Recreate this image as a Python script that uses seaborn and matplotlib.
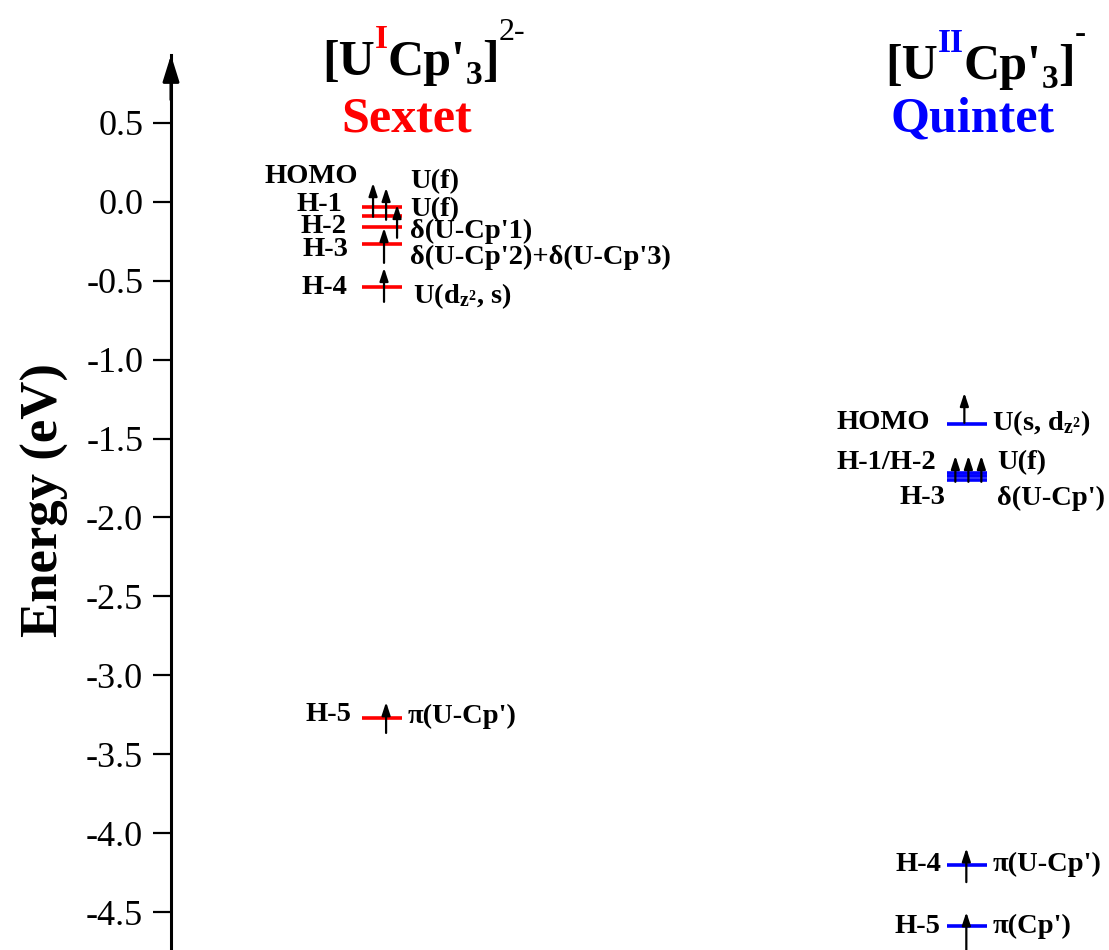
import matplotlib
matplotlib.use('Agg')
import matplotlib.pyplot as plt
import seaborn as sns

# ORBITAL ENERGIES (eV), ONE UP-SPIN ELECTRON PER LEVEL
sextet_orbitals = ['HOMO', 'H-1', 'H-2', 'H-3', 'H-4', 'H-5']
sextet_energy = [-0.03, -0.09, -0.16, -0.27, -0.54, -3.27]
sextet_character = ['U(f)', 'U(f)', "δ(U-Cp'1)", "δ(U-Cp'2)+δ(U-Cp'3)",
                    r'U(d$_{\mathrm{z}^{2}}$, s)', "π(U-Cp')"]

quintet_orbitals = ['HOMO', 'H-1', 'H-2', 'H-3', 'H-4', 'H-5']
quintet_energy = [-1.41, -1.72, -1.74, -1.76, -4.20, -4.59]
quintet_names = ['HOMO', 'H-1/H-2', 'H-3', 'H-4', 'H-5']
quintet_character = [r'U(s, d$_{\mathrm{z}^{2}}$)', 'U(f)', "δ(U-Cp')", "π(U-Cp')", "π(Cp')"]

ytick_values = [0.5, 0.0, -0.5, -1.0, -1.5, -2.0, -2.5, -3.0, -3.5, -4.0, -4.5]

# LAYOUT (x in arbitrary column units, y in eV)
col_x = {'sextet': 2.25, 'quintet': 8.49}
half_w = 0.213
s_arrow_dx = [-0.096, 0.043, 0.16, 0.021, 0.021, 0.043]
s_arrow_lo = [-0.065, -0.024, -0.068, -0.117, -0.094, -0.095]
s_arrow_len = [0.215, 0.203, 0.209, 0.222, 0.216, 0.196]
q_arrow_dx = [-0.032, -0.128, 0.011, 0.149, -0.011, -0.011]
q_arrow_lo = [0.01, -0.054, -0.034, -0.014, -0.11, -0.15]
q_arrow_len = [0.19, 0.165, 0.165, 0.165, 0.215, 0.24]

s_left_x = [1.994, 1.823, 1.876, 1.887, 1.876, 1.919]
s_left_y = [0.158, -0.019, -0.158, -0.304, -0.545, -3.25]
s_right_x = [2.548, 2.548, 2.548, 2.548, 2.58, 2.527]
s_right_y = [0.127, -0.051, -0.19, -0.355, -0.60, -3.26]
q_left_x = [8.092, 8.156, 8.252, 8.209, 8.198]
q_left_y = [-1.40, -1.65, -1.876, -4.20, -4.59]
q_right_x = [8.753, 8.806, 8.806, 8.763, 8.763]
q_right_y = [-1.40, -1.65, -1.876, -4.20, -4.59]

sns.set_style('white')
plt.rcParams['font.family'] = ['Liberation Serif', 'DejaVu Serif']
plt.rcParams['text.color'] = 'black'
plt.rcParams['axes.labelcolor'] = 'black'
plt.rcParams['ytick.color'] = 'black'
plt.rcParams['mathtext.fontset'] = 'custom'
plt.rcParams['mathtext.rm'] = 'Liberation Serif:bold'
plt.rcParams['mathtext.it'] = 'Liberation Serif:bold'
plt.rcParams['mathtext.bf'] = 'Liberation Serif:bold'

fig = plt.figure(figsize=(11.09, 9.5), dpi=100)
ax = fig.add_axes([171 / 1109, 0, 938 / 1109, 895 / 950])
ax.set_xlim(0, 10)
ax.set_ylim(-4.74, 0.93)

LABEL_FS = 20.5


def draw_levels(energies, center, color, dxs, los, lens):
    ax.hlines(energies, center - half_w, center + half_w, colors=color, lw=2.6, zorder=2)
    for e, dx, lo, ln in zip(energies, dxs, los, lens):
        ax.annotate('', xy=(center + dx, e + lo + ln), xytext=(center + dx, e + lo),
                    arrowprops=dict(arrowstyle='-|>,head_length=0.55,head_width=0.18',
                                    color='k', lw=1.6, mutation_scale=14,
                                    shrinkA=0, shrinkB=0), zorder=3)


draw_levels(sextet_energy, col_x['sextet'], 'red', s_arrow_dx, s_arrow_lo, s_arrow_len)
draw_levels(quintet_energy, col_x['quintet'], 'blue', q_arrow_dx, q_arrow_lo, q_arrow_len)

for name, x, y in zip(sextet_orbitals, s_left_x, s_left_y):
    ax.text(x, y, name, ha='right', va='center', fontsize=LABEL_FS, fontweight='bold')
for name, x, y in zip(sextet_character, s_right_x, s_right_y):
    ax.text(x, y, name, ha='left', va='center', fontsize=LABEL_FS, fontweight='bold')
for name, x, y in zip(quintet_names, q_left_x, q_left_y):
    ax.text(x, y, name, ha='right', va='center', fontsize=LABEL_FS, fontweight='bold')
for name, x, y in zip(quintet_character, q_right_x, q_right_y):
    ax.text(x, y, name, ha='left', va='center', fontsize=LABEL_FS, fontweight='bold')


def chain_text(x, y, pieces):
    # pieces: (text, color, size, weight, raise in points)
    prev = None
    for s, color, size, weight, dy in pieces:
        kw = dict(xytext=(0, dy), textcoords='offset points', ha='left', va='baseline',
                  color=color, fontsize=size, fontweight=weight, annotation_clip=False)
        if prev is None:
            prev = ax.annotate(s, xy=(x, y), xycoords='data', **kw)
        else:
            prev = ax.annotate(s, xy=(1, y), xycoords=(prev, 'data'), **kw)


chain_text(1.61, 0.805, [('[U', 'k', 36, 'bold', 0), ('I', 'red', 24, 'bold', 19),
                         ("Cp'", 'k', 36, 'bold', 0), ('3', 'k', 24, 'bold', -7),
                         (']', 'k', 36, 'bold', 0), ('2-', 'k', 23, 'normal', 25)])
chain_text(7.61, 0.78, [('[U', 'k', 36, 'bold', 0), ('II', 'blue', 24, 'bold', 19),
                        ("Cp'", 'k', 36, 'bold', 0), ('3', 'k', 24, 'bold', -7),
                        (']', 'k', 36, 'bold', 0), ('-', 'k', 24, 'bold', 26)])
ax.text(2.516, 0.444, 'Sextet', color='red', fontsize=36, fontweight='bold',
        ha='center', va='baseline')
ax.text(8.55, 0.444, 'Quintet', color='blue', fontsize=36, fontweight='bold',
        ha='center', va='baseline')

# AXIS STYLE
sns.despine(ax=ax, top=True, right=True, bottom=True)
ax.spines['left'].set_linewidth(2.2)
ax.spines['left'].set_color('k')
ax.set_xticks([])
ax.set_yticks(ytick_values)
ax.set_yticklabels(['{:.1f}'.format(v) for v in ytick_values])
ax.tick_params(axis='y', direction='out', length=13, width=1.6, pad=7,
               labelsize=26, left=True, color='k', labelcolor='k')
ax.annotate('', xy=(0, 1.0), xytext=(0, 0.95), xycoords='axes fraction',
            arrowprops=dict(arrowstyle='-|>,head_length=0.8,head_width=0.25',
                            color='k', lw=2.2, mutation_scale=20,
                            shrinkA=0, shrinkB=0), annotation_clip=False)
fig.text(45 / 1109, 1 - 500 / 950, 'Energy (eV)', rotation=90, ha='center', va='center',
         fontsize=38, fontweight='bold', color='k')

fig.savefig('out.png', dpi=100)
